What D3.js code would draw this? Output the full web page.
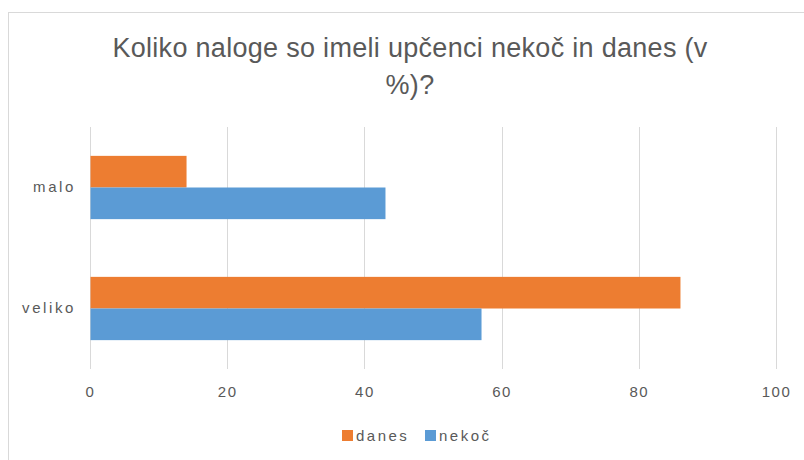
<!DOCTYPE html>
<html>
<head>
<meta charset="utf-8">
<script src="https://cdn.jsdelivr.net/npm/d3@7"></script>
<style>
  body { margin: 0; background: #fff; }
  svg { display: block; font-family: 'Liberation Sans', Arial, sans-serif; }
</style>
</head>
<body>
<svg id="chart" width="804" height="460"></svg>
<script>
// data
const categories = ['malo', 'veliko']
const seriesNames = ['danes', 'nekoč']
const danes = [14, 86]
const nekoc = [43, 57]
const xTicks = [0, 20, 40, 60, 80, 100]
const titleLines = ['Koliko naloge so imeli upčenci nekoč in danes (v', '%)?']

const colors = { danes: '#ED7D31', 'nekoč': '#5B9BD5' }
const textColor = '#595959'
const gridColor = '#d9d9d9'

const svg = d3.select('#chart')
const margin = { top: 127, right: 28, bottom: 91, left: 90 }
const width = 804 - margin.left - margin.right
const height = 460 - margin.top - margin.bottom

// chart area border
svg.append('rect')
  .attr('x', 8.5).attr('y', 12.5)
  .attr('width', 820).attr('height', 480)
  .attr('fill', 'none').attr('stroke', gridColor)

// title
svg.append('text')
  .attr('x', 410).attr('y', 57)
  .attr('text-anchor', 'middle')
  .attr('fill', textColor)
  .attr('font-size', 27)
  .attr('letter-spacing', 0.3)
  .selectAll('tspan')
  .data(titleLines)
  .join('tspan')
  .attr('x', 410)
  .attr('dy', (d, i) => i === 0 ? 0 : 37)
  .text(d => d)

const g = svg.append('g').attr('transform', `translate(${margin.left},${margin.top})`)

const x = d3.scaleLinear().domain([0, 100]).range([0, width])
const y = d3.scaleBand().domain(categories).range([0, height])
  .paddingInner(0.477).paddingOuter(0.2385)
const ySub = d3.scaleBand().domain(seriesNames).range([0, y.bandwidth()])

// gridlines
g.append('g')
  .selectAll('line')
  .data(xTicks)
  .join('line')
  .attr('x1', d => Math.round(x(d)) + 0.5)
  .attr('x2', d => Math.round(x(d)) + 0.5)
  .attr('y1', 0).attr('y2', height)
  .attr('stroke', gridColor)

// bars
const rows = categories.map((c, i) => ({ cat: c, values: [
  { name: 'danes', value: danes[i] },
  { name: 'nekoč', value: nekoc[i] }
] }))

g.append('g')
  .selectAll('g')
  .data(rows)
  .join('g')
  .attr('transform', d => `translate(0,${y(d.cat)})`)
  .selectAll('rect')
  .data(d => d.values)
  .join('rect')
  .attr('x', x(0) + 0.5)
  .attr('y', d => ySub(d.name))
  .attr('width', d => x(d.value) - x(0))
  .attr('height', ySub.bandwidth())
  .attr('fill', d => colors[d.name])

// x axis labels
const xAxis = g.append('g')
  .attr('transform', `translate(0,${height})`)
  .call(d3.axisBottom(x).tickValues(xTicks).tickSize(0).tickPadding(17))
xAxis.select('.domain').remove()
xAxis.selectAll('text')
  .attr('fill', textColor)
  .attr('font-size', 15)
  .attr('font-family', "'Liberation Sans', Arial, sans-serif")
  .attr('letter-spacing', 1.5)

// y axis labels
const yAxis = g.append('g')
  .call(d3.axisLeft(y).tickSize(0).tickPadding(14))
yAxis.select('.domain').remove()
yAxis.selectAll('text')
  .attr('fill', textColor)
  .attr('font-size', 15)
  .attr('font-family', "'Liberation Sans', Arial, sans-serif")
  .attr('letter-spacing', 2.6)

// legend
const legend = svg.append('g').attr('transform', 'translate(342,436)')
const items = legend.selectAll('g')
  .data(seriesNames)
  .join('g')
  .attr('transform', (d, i) => `translate(${i * 83},0)`)
items.append('rect')
  .attr('x', 0).attr('y', -6)
  .attr('width', 11).attr('height', 11)
  .attr('fill', d => colors[d])
items.append('text')
  .attr('x', 14).attr('y', 5)
  .attr('fill', textColor)
  .attr('font-size', 15)
  .attr('letter-spacing', 2.5)
  .text(d => d)
</script>
</body>
</html>
